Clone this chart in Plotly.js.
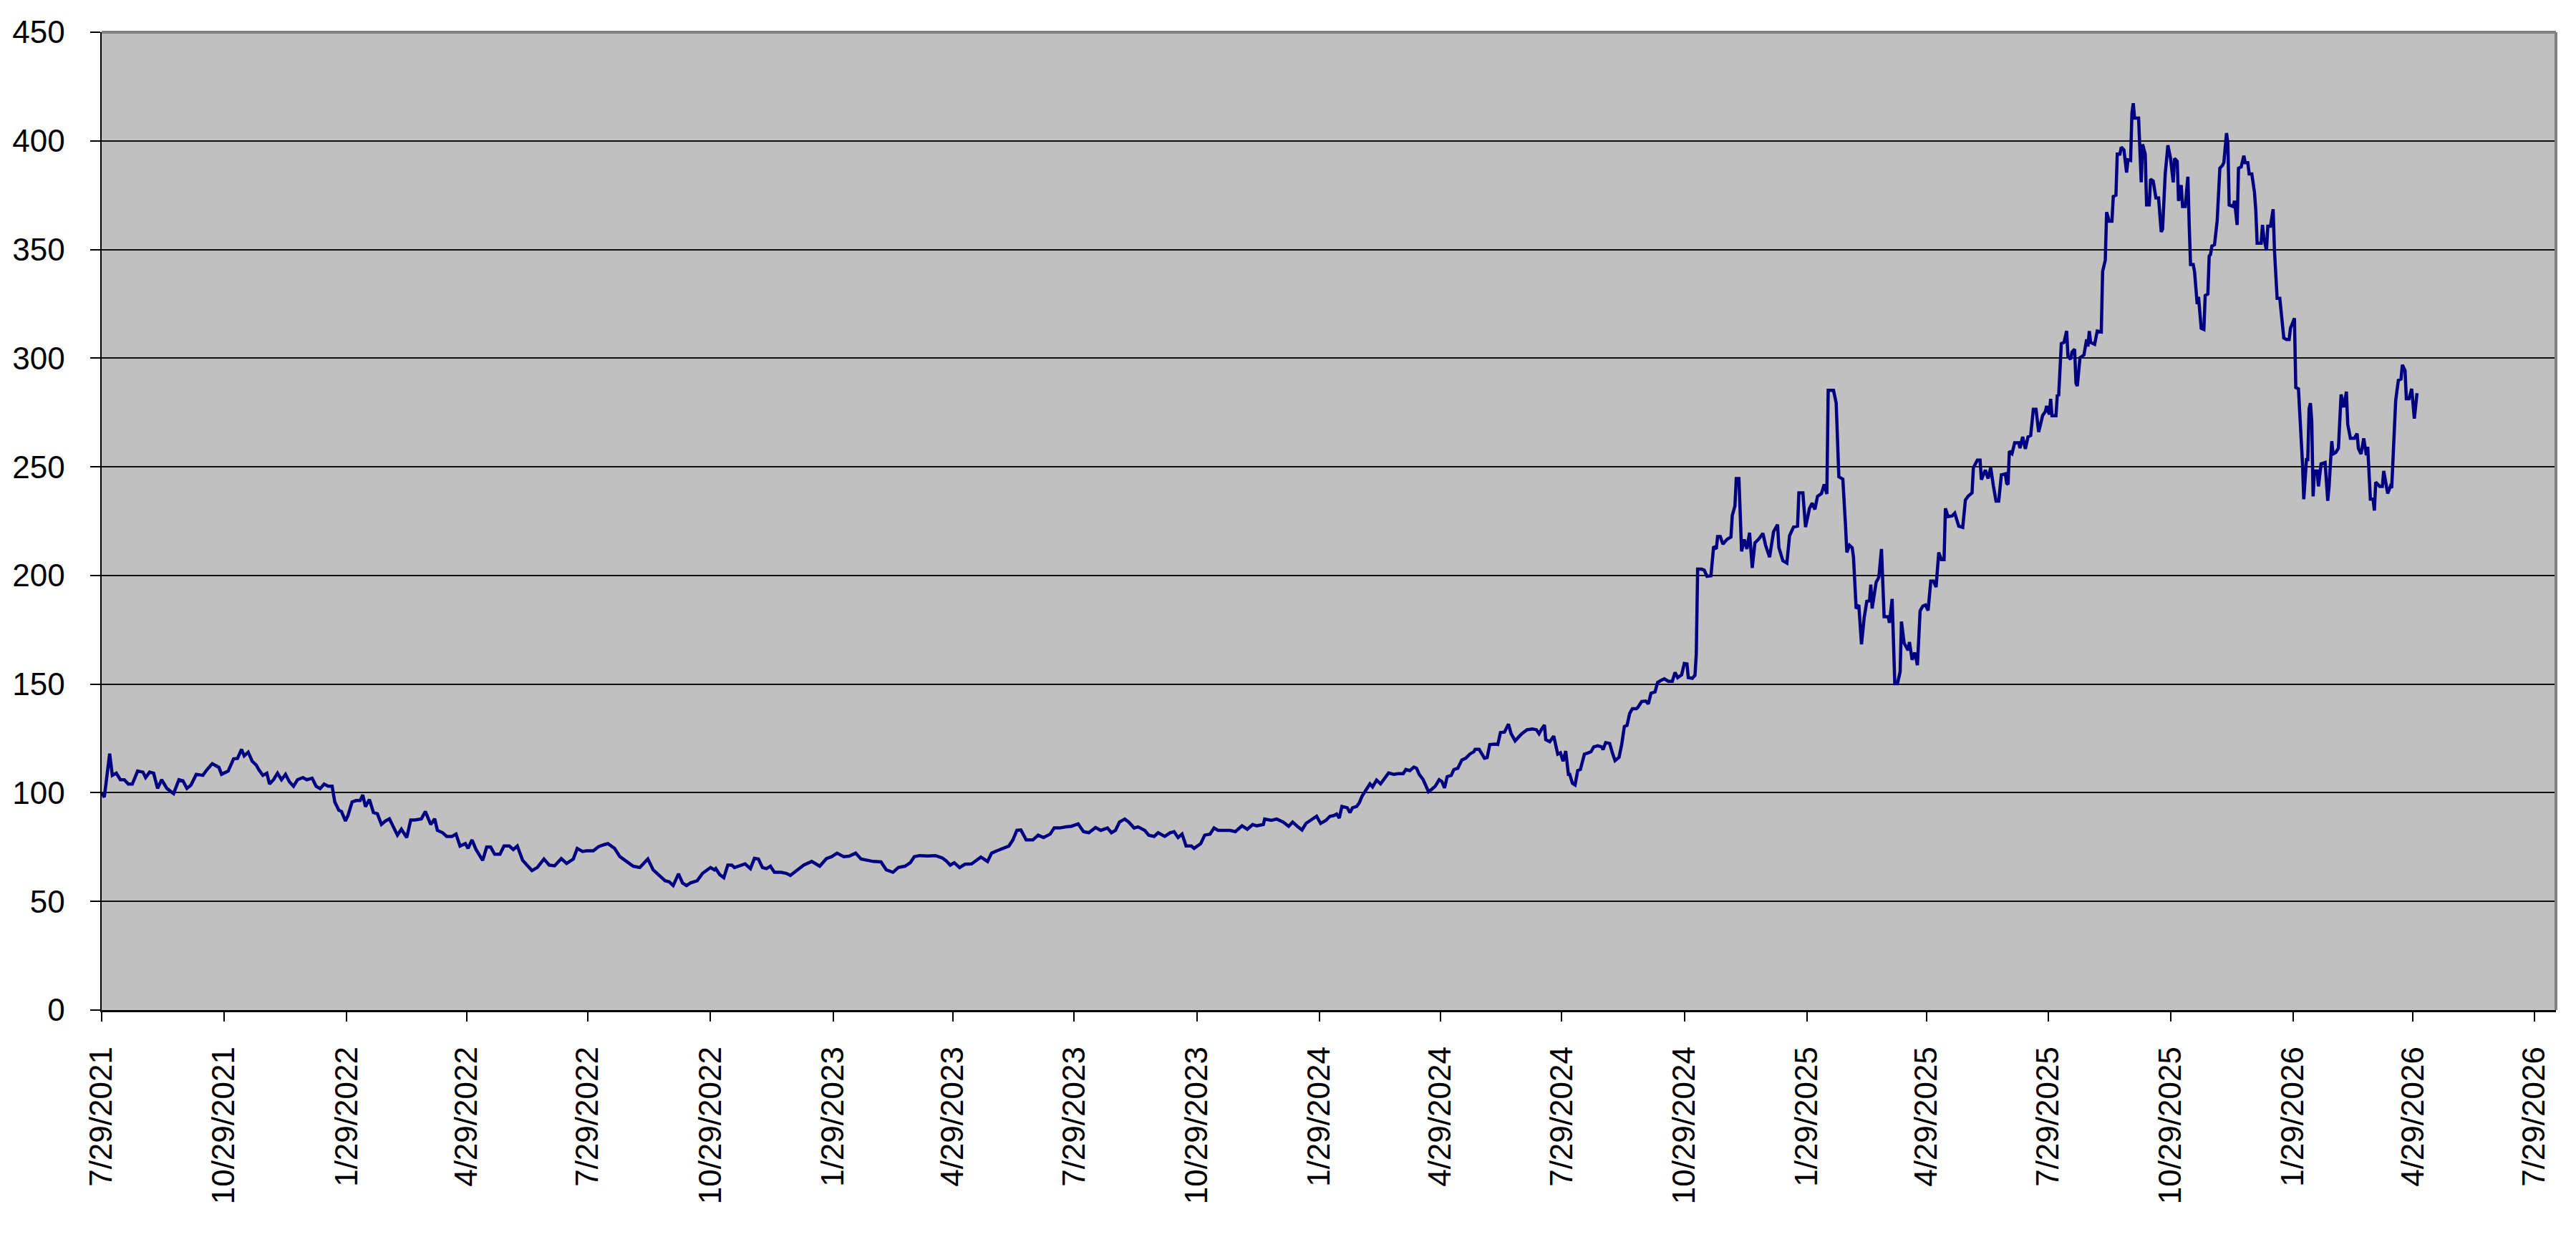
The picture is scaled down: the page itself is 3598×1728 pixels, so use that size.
<!DOCTYPE html>
<html>
<head>
<meta charset="utf-8">
<script src="https://cdn.plot.ly/plotly-3.0.1.min.js"></script>
<style>
  html, body { margin: 0; padding: 0; background: #ffffff; }
  #chart { width: 3598px; height: 1728px; }
</style>
</head>
<body>
<div id="chart"></div>
<script>
// Days elapsed since 7/29/2021 (first point of the series)
const startDate = '2021-07-29';
const dayOffsets = [
  0,2,6,8,11,14,17,20,23,27,31,33,36,39,42,45,49,54,58,61,64,67,71,76,79,83,88,90,95,99,102,105,107,110,113,116,118,121,124,126,129,132,135,138,141,144,147,151,154,158,161,164,167,170,173,175,178,180,183,185,188,191,194,196,198,201,204,207,210,213,216,219,222,225,229,232,235,240,243,247,250,252,256,259,263,266,269,273,275,278,281,286,289,292,295,299,302,306,309,312,316,320,323,327,332,336,340,345,349,354,357,361,364,369,373,377,380,385,389,394,399,404,410,414,419,423,426,429,433,436,439,442,447,451,457,460,
  461,464,467,470,473,475,479,483,487,490,493,496,499,502,505,510,514,517,520,524,527,533,539,544,548,552,557,561,566,570,575,579,585,589,594,598,603,607,610,614,620,626,631,634,637,640,644,648,653,657,660,665,668,672,676,681,684,687,690,694,699,703,707,712,715,719,724,728,733,737,741,746,750,755,758,761,764,768,771,775,778,783,786,790,793,798,802,805,808,811,814,818,820,825,828,832,835,838,842,847,851,856,860,864,867,872,873,878,882,887,891,894,898,901,904,909,912,915,919,922,
  925,927,929,931,935,937,939,942,944,946,949,952,954,957,960,962,966,970,973,977,979,982,985,987,989,992,994,996,998,1001,1004,1006,1008,1010,1013,1015,1018,1021,1024,1027,1030,1031,1034,1038,1040,1042,1046,1048,1050,1053,1056,1058,1061,1064,1066,1070,1074,1077,1079,1081,1083,1084,1087,1090,1092,1093,1095,1097,1099,1101,1102,1104,1106,1108,1110,1113,1116,1118,1120,1123,1126,1127,1129,1132,1134,1136,1139,1141,1143,1145,1147,1149,1152,1153,1156,1159,1161,1163,1166,1168,1171,1173,1176,1179,
  1181,1183,1186,1188,1190,1191,1194,1196,1197,1198,1201,1203,1205,1208,1210,1212,1213,1215,1217,1220,1223,1224,1226,1227,1229,1231,1233,1235,1237,1239,1241,1244,1247,1249,1252,1255,1258,1259,1262,1265,1267,1270,1273,1274,1277,1279,1282,1284,1286,1288,1291,1293,1295,1296,1300,1302,1304,1307,1309,1310,1312,1314,1315,1317,1319,1321,1323,1325,1327,1328,1329,1332,1334,1336,1338,1341,1342,1344,1346,1348,1350,1351,1353,1356,1357,1359,1361,1363,1365,1367,1369,1371,1373,1375,1377,1379,1381,1383,1384,1386,1389,1391,1394,1397,1399,1401,1404,1405,1408,1410,1411,1414,1416,1418,1420,1422,1424,1426,1429,1430,1431,1432,1434,1436,1439,1440,1442,1444,1446,1448,1450,1452,1454,1457,1459,
  1460,1462,1463,1464,1467,1468,1469,1471,1473,1475,1476,1478,1479,1481,1482,1483,1485,1488,1490,1491,1492,1493,1496,1498,1501,1502,1504,1505,1507,1509,1510,1512,1513,1515,1516,1518,1520,1521,1523,1524,1525,1526,1529,1531,1532,1534,1535,1537,1538,1540,1542,1544,1546,1547,1549,1551,1553,1555,1556,1558,1559,1561,1562,1564,1566,1567,1568,1570,1571,1573,1574,1576,1578,1579,1581,1582,1583,1584,1586,1588,1590,1592,1593,1595,1596,1597,1600,1601,1603,1604,1606,1608,1609,1611,1612,1614,1616,1617,1618,1621,1622,1623,1625,1626,1628,1630,1631,1633,1635,1638,1640,1642,1643,1646,1647,1649,1650,1652,1653,1655,1656,1657,1658,1659,1660,1661,1663,1664,1666,1669,1671,1672,1674,1675,1677,1679,1681,1683,1685,1686,1688,1691,1693,1694,1696,1698,1700,1701,1703,1705,1706,1707,1710,1712,1713,1716,1718,1719,1722,1724,1726,1727,1729,1730,1732,1734,1736,1738
];

// Price values, one per day offset above
const prices = [
  100,98,118,108,109,106,106,104,104,110,109.5,107,109.5,109,102,106,102,99.6,106,105.5,102,103.5,108.5,108,110.6,113.4,111.7,108.5,110,115.6,115.8,120,117,118.7,114.5,112.8,110.6,108,109,104,106,109,106,108.5,105,103,106,107,106,106.7,103,101.9,104,103,103,95.8,92,91.4,87,89.7,95.8,96.4,96.4,99,93.6,96.9,90.9,90.3,85.4,87,88,84.3,80.5,83.2,79.4,87.5,87.5,88,91.4,85.4,88,82.7,81.6,79.9,79.9,81,75.5,76.6,74.4,78.3,73.9,68.9,75,75,71.7,71.7,75.5,75.5,73.9,75.5,68.9,66.2,64.2,65.6,69.5,66.7,66.4,69.7,67.5,69.5,74.4,73,73.3,73.3,75.2,76.1,76.6,74.4,70.6,68.4,66.2,65.6,69.5,64.5,61.7,59.5,59,57.3,62.7,58.5,57.3,58.5,59.5,62.9,65.6,64.5,
  65.1,62.3,60.9,66.7,66.7,65.6,66.4,67.3,65.1,69.8,69.5,65.6,65.1,66.2,63.4,63.4,62.9,62,63.4,65.1,66.7,68.4,66.2,69.7,70.6,72.2,70.6,70.8,72.2,69.5,68.9,68.4,68.2,64.5,63.4,65.6,66.2,67.8,70.6,71.1,70.9,71.1,70,68.6,66.7,67.8,65.6,67.1,67.3,68.9,70.4,68.4,72.2,73.3,74.4,75.5,78.3,82.7,82.9,78.3,78.3,80.5,79.4,81,83.8,83.8,84.3,84.6,85.7,82.1,81.6,84,82.7,83.8,81.6,82.7,86.5,87.9,86.5,83.8,84.3,82.7,80.5,79.9,81.6,79.9,81.6,82.1,79.4,81,75.5,75.5,74.4,76.6,80.5,81,83.8,82.7,82.7,82.7,82.1,84.8,83.2,85.4,84.8,85.4,87.9,87.3,87.9,86.5,84.6,86.5,84.3,82.9,85.9,88.1,89.2,85.9,87.3,89.2,
  89.5,90.2,88.4,93.7,93.1,90.9,93.1,93.7,95.3,98.3,101.2,104.1,102.7,105.8,104.1,105.8,109.1,108.5,108.8,108.8,110.7,110.2,111.8,111.3,108.5,106,103.6,100.5,101.4,103,106,105.2,102.2,107.4,108,110.7,111.3,115.1,115.9,117.8,118.9,120,120,115.9,116.2,122.2,122.4,122.2,127.7,127.9,131.6,127.2,123.9,126.1,127.2,129,129.4,129,127.2,129.4,131.2,124.4,123.5,126.1,120,117.8,118.4,114.5,119.2,108.5,108.5,104.4,103.6,110.2,110.7,117.8,118.4,118.9,121.1,121.6,121.1,119.8,123.1,122.7,118.4,114.8,116.3,122.2,130.5,131,136.5,138.7,138.7,139.2,142,142.2,140.9,145.8,146.4,150.8,151.9,152.4,151.3,151.3,
  155.4,153,154.3,159.5,159.3,153,152.7,154.1,163.9,202.9,202.9,202.4,199.6,199.9,213.3,212.2,217.9,217.9,214.4,216.6,217.7,227.6,232,244.6,244.6,211.1,216.6,212.2,219.7,203.5,215,216.8,219.4,213.9,208.4,220.1,223.4,212.8,206.8,205.7,218.3,222.3,222.7,238,238,222.3,230.9,233.3,230.4,236.4,237.7,241.9,237.5,285.2,285.2,279.4,245.4,244.3,223.2,210.6,213.9,212.8,208.4,184.8,186.4,168.3,180.4,188.1,188.3,195.8,184.8,196.9,199.1,212.2,181,181,178.2,189.2,150.2,150.2,155.7,178.8,168.9,165.6,169.4,161.2,164.5,158.7,183.7,185.9,186.4,183.9,197.4,197.4,194.7,210.6,207.3,207.3,230.9,227.1,227.4,228.7,222.7,222.1,234.7,236.4,238,249.6,253.1,253.1,244.1,248.5,244.6,249.6,241.3,234.2,234.2,246.3,246.8,242.4,241.9,257.2,256.1,261.1,261.1,258.6,263.8,258.3,263.8,264.4,276.5,276.5,266,273.7,275.4,
  278,274.1,281.3,273.5,273.5,283.2,282.6,306.7,307.3,312.5,300.8,299.5,302.8,304.1,288.5,287.2,300.2,301.5,308.6,305.4,312.5,307.3,306.4,312.5,312.1,339.9,345.1,367.2,363,363,374.4,375,393.9,393.9,397.1,395.8,385.4,391.3,391,412.8,417.3,410.5,410.5,380.9,398.4,393.9,370.5,370.5,382.4,381.5,373.7,373.7,358.1,359.4,384.8,398,391.9,380.9,391.9,390.6,372.4,379.6,369.8,369.8,383.5,361.3,343.1,343.1,339.9,324.9,328.2,313.8,313.2,328.8,329.5,347,347.7,351.6,352.2,363.3,387.4,388.7,390,403.6,399.1,370.5,369.8,372.4,361.3,387.4,388,393.2,390,390,384.8,384.8,376.3,367.9,352.9,352.9,361.3,355.5,349.6,360.7,360.7,368.5,349.6,327.5,327.5,309.3,308.6,308.6,313.8,318.4,286.5,285.9,275.4,252,235.1,253.3,253.3,276.7,279.3,270.8,236.4,248.1,248.1,241,251.4,252,234.4,241,261.8,255.9,256.6,258.5,283.3,277.4,284.6,269.6,263.1,263.1,265.3,258.5,255.9,263.1,255.3,259.2,235.1,235.1,229.9,242.9,241,241,248.1,237.7,241,240.3,280.6,289.8,290.4,296.9,294.3,281.3,281.3,285.9,272.2,283.9
];

// Axis tick labels
const xTickLabels = ['7/29/2021','10/29/2021','1/29/2022','4/29/2022','7/29/2022','10/29/2022','1/29/2023','4/29/2023','7/29/2023','10/29/2023','1/29/2024','4/29/2024','7/29/2024','10/29/2024','1/29/2025','4/29/2025','7/29/2025','10/29/2025','1/29/2026','4/29/2026','7/29/2026'];
const yTickValues = [0,50,100,150,200,250,300,350,400,450];

// ---- build library inputs ----
const baseMs = Date.parse(startDate + 'T00:00:00Z');
const xDates = dayOffsets.map(d => new Date(baseMs + d * 86400000).toISOString().slice(0, 10));
const toIso = s => { const p = s.split('/'); return p[2] + '-' + p[0].padStart(2, '0') + '-' + p[1].padStart(2, '0'); };
const xTickVals = xTickLabels.map(toIso);

const trace = {
  type: 'scatter',
  mode: 'lines',
  x: xDates,
  y: prices,
  line: { color: '#000080', width: 4.5 },
  hoverinfo: 'skip'
};

const layout = {
  width: 3598,
  height: 1728,
  margin: { l: 142, r: 28, t: 45, b: 317, pad: 0 },
  paper_bgcolor: '#ffffff',
  plot_bgcolor: '#c0c0c0',
  font: { family: 'Liberation Sans, Arial, sans-serif', size: 44, color: '#000000' },
  showlegend: false,
  xaxis: {
    type: 'date',
    range: ['2021-07-29', '2026-08-14 07:00'],
    tickmode: 'array',
    tickvals: xTickVals,
    ticktext: xTickLabels,
    tickangle: -90,
    ticks: 'outside',
    ticklen: 13,
    tickwidth: 2,
    tickcolor: '#000000',
    ticklabelstandoff: 18,
    showgrid: false,
    showline: true,
    linecolor: '#000000',
    linewidth: 2.5,
    zeroline: false,
    tickfont: { family: 'Liberation Sans, Arial, sans-serif', size: 44, color: '#000000' }
  },
  yaxis: {
    range: [0, 450],
    tickmode: 'array',
    tickvals: yTickValues,
    ticktext: yTickValues.map(String),
    ticks: 'outside',
    ticklen: 14,
    tickwidth: 2,
    tickcolor: '#000000',
    ticklabelstandoff: 26,
    showgrid: true,
    gridcolor: '#111111',
    gridwidth: 2,
    showline: true,
    linecolor: '#000000',
    linewidth: 2.5,
    zeroline: false,
    tickfont: { family: 'Liberation Sans, Arial, sans-serif', size: 44, color: '#000000' }
  },
  shapes: [
    { type: 'line', xref: 'paper', yref: 'paper', x0: 0, x1: 1, y0: 1, y1: 1, line: { color: '#808080', width: 4 } },
    { type: 'line', xref: 'paper', yref: 'paper', x0: 1, x1: 1, y0: 0, y1: 1, line: { color: '#808080', width: 4 } }
  ]
};

Plotly.newPlot('chart', [trace], layout, { displayModeBar: false, staticPlot: true });
</script>
</body>
</html>
